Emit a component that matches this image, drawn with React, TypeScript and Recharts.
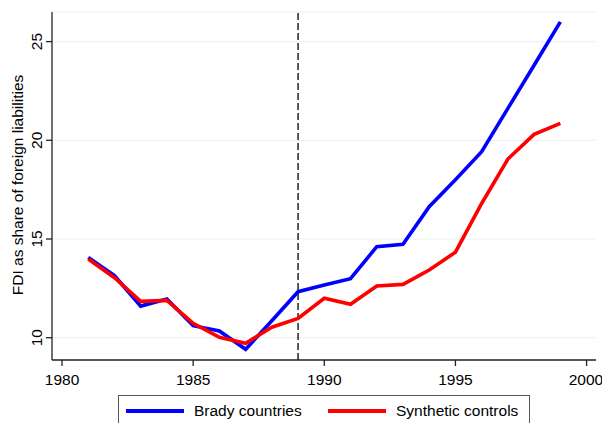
import React from 'react';
import { LineChart, Line, XAxis, YAxis, CartesianGrid, ReferenceLine } from 'recharts';

const YEARS = [1981, 1982, 1983, 1984, 1985, 1986, 1987, 1988, 1989, 1990, 1991, 1992, 1993, 1994, 1995, 1996, 1997, 1998, 1999];
const BRADY = [14.07, 13.14, 11.6, 11.96, 10.61, 10.34, 9.41, 10.86, 12.33, 12.67, 12.99, 14.61, 14.73, 16.64, 18.0, 19.42, 21.62, 23.8, 26.0];
const SYNTHETIC = [13.99, 13.04, 11.84, 11.89, 10.73, 10.02, 9.72, 10.53, 10.98, 12.0, 11.69, 12.62, 12.7, 13.43, 14.33, 16.8, 19.05, 20.3, 20.86];
const X_TICKS = [1980, 1985, 1990, 1995, 2000];
const Y_TICKS = [10, 15, 20, 25];
const TREATMENT_YEAR = 1989;

const FONT = '"Liberation Sans", Arial, Helvetica, sans-serif';
const BLUE = '#0000ff';
const RED = '#ff0000';

const data = YEARS.map((year, i) => ({ year, brady: BRADY[i], synthetic: SYNTHETIC[i] }));

const XTick = ({ x, y, payload }: any) => (
  <text x={x} y={y + 17} textAnchor="middle" fontSize={15.5} fill="#000" fontFamily={FONT}>
    {payload.value}
  </text>
);

const YTick = ({ x, y, payload }: any) => (
  <text x={x} y={y} transform={`rotate(-90, ${x}, ${y})`} textAnchor="middle" fontSize={15.5} fill="#000" fontFamily={FONT}>
    {payload.value}
  </text>
);

const YTitle = () => (
  <text x={23} y={185} transform="rotate(-90, 23, 185)" textAnchor="middle" fontSize={15.5} fill="#000" fontFamily={FONT}>
    FDI as share of foreign liabilities
  </text>
);

export default function App() {
  return (
    <div style={{ position: 'absolute', left: 0, top: 0, width: 602, height: 423, background: '#fff', fontFamily: FONT, overflow: 'hidden' }}>
      <LineChart width={602} height={423} data={data} margin={{ top: 12, right: 6, bottom: 33, left: 0 }}>
        <CartesianGrid horizontal vertical={false} stroke="#eaf2f3" strokeWidth={1.2} />
        <XAxis
          dataKey="year"
          type="number"
          domain={[1979.618, 2000.36]}
          ticks={X_TICKS}
          height={30}
          tickSize={6}
          tickMargin={2}
          tick={<XTick />}
          stroke="#222"
          strokeWidth={1.3}
          allowDataOverflow
        />
        <YAxis
          type="number"
          domain={[8.87, 26.5]}
          ticks={Y_TICKS}
          width={52}
          tickSize={6}
          tickMargin={4}
          tick={<YTick />}
          stroke="#222"
          strokeWidth={1.3}
          allowDataOverflow
          label={{ content: () => <YTitle /> }}
        />
        <ReferenceLine x={TREATMENT_YEAR} stroke="#000" strokeWidth={1.3} strokeDasharray="7 3" />
        <Line type="linear" dataKey="brady" stroke={BLUE} strokeWidth={3.6} dot={false} isAnimationActive={false} />
        <Line type="linear" dataKey="synthetic" stroke={RED} strokeWidth={3.6} dot={false} isAnimationActive={false} />
      </LineChart>
      <div style={{ position: 'absolute', left: 118, top: 395, width: 410, height: 40, border: '1px solid #555', background: '#fff', fontSize: 15.5, color: '#000' }}>
        <span style={{ position: 'absolute', left: 7, top: 13, width: 58, height: 4, background: BLUE }} />
        <span style={{ position: 'absolute', left: 75, top: 5, lineHeight: '20px', whiteSpace: 'nowrap' }}>Brady countries</span>
        <span style={{ position: 'absolute', left: 209, top: 13, width: 58, height: 4, background: RED }} />
        <span style={{ position: 'absolute', left: 277, top: 5, lineHeight: '20px', whiteSpace: 'nowrap' }}>Synthetic controls</span>
      </div>
    </div>
  );
}
